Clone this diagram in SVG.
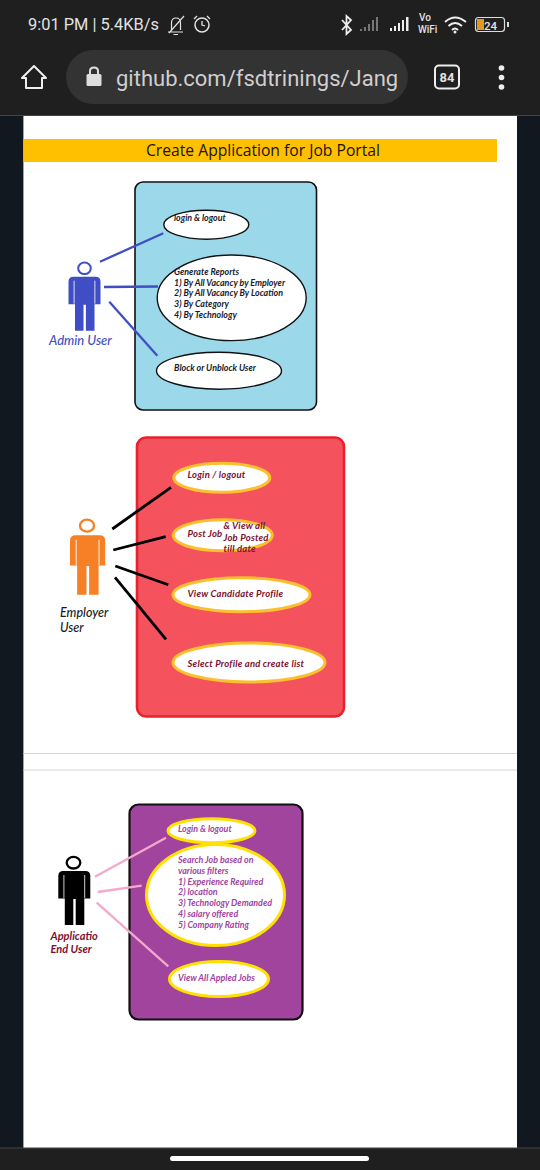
<svg xmlns="http://www.w3.org/2000/svg" width="540" height="1170" viewBox="0 0 540 1170">
<style>
.ui{font-family:Roboto,"Liberation Sans",sans-serif;fill:#e2e2e2}
.t{font-family:Lato,"Open Sans",sans-serif;font-style:italic;font-weight:700;font-size:8.9px}
.k{fill:#1a1a2a}.r{fill:#7c1030;font-size:9.500px;letter-spacing:.2px}.p{fill:#a0449e}
.a{stroke-linecap:butt;fill:none}
.arm{stroke:#fff;stroke-width:.8;fill:none}
</style>
<defs>
<path id="body" d="M5,0H27Q32,0 32,5V27.500H26V54H17.400V28H15V54H6.500V27.500H0V5Q0,0 5,0Z"/>
<g id="armlines"><path class="arm" d="M5.600,4V27M26.400,4V27"/></g>
</defs>

<rect width="540" height="1170" fill="#121820"/>
<rect width="540" height="116" fill="#1f1f1f"/>
<rect y="1148" width="540" height="22" fill="#1f1f1f"/>
<rect x="23.400" y="116" width="493.600" height="1032" fill="#fff"/>
<path d="M0,115.500H540M0,1148H540" stroke="#444" stroke-width="1"/>
<path d="M23.400,753.500H517M23.400,770H517" stroke="#d4d4d4" stroke-width="1"/>

<g id="statusbar">
<text class="ui" x="28" y="30" font-size="16.400">9:01 PM | 5.4KB/s</text>
<path d="M168,32H183M171.500,30V23Q171.500,18 176,18Q180.500,18 180.500,23V30M169,33L184,16M173.500,34.500H178" fill="none" stroke="#e2e2e2" stroke-width="1.200"/>
<circle cx="202" cy="25" r="7" fill="none" stroke="#e2e2e2" stroke-width="1.500"/>
<path d="M202,21V25L205,26M194,19L197,16M210,19L207,16" fill="none" stroke="#e2e2e2" stroke-width="1.300"/>
<path d="M342,20L351,30L346.500,34V16L351,20L342,30" fill="none" stroke="#eee" stroke-width="1.800"/>
<path d="M360,31V29H362V31ZM364,31V27H366V31ZM368,31V24H370V31ZM372,31V20H374V31ZM376,31V17H378V31Z" fill="#777"/>
<path d="M390,31V28H392V31ZM394,31V26H396V31ZM398,31V23H400V31ZM402,31V20H404V31ZM406,31V17H408.500V31Z" fill="#eee"/>
<text class="ui" x="419" y="21" font-size="10" font-weight="500">Vo</text>
<text class="ui" x="418" y="33" font-size="10" font-weight="500">WiFi</text>
<path d="M445,22Q455,13 466,22M448.500,26Q455,20 462,26M452,30Q455,27 458,30" fill="none" stroke="#eee" stroke-width="2"/>
<circle cx="455" cy="32" r="1.500" fill="#eee"/>
<rect x="475.500" y="17.500" width="29" height="14" rx="3" fill="none" stroke="#ddd" stroke-width="1.200"/>
<rect x="477" y="19" width="7" height="11" fill="#e09a22"/>
<text class="ui" x="484" y="30" font-size="11.500" font-weight="500">24</text>
<rect x="507" y="22" width="2" height="5" fill="#ddd"/>
</g>

<g id="browserbar">
<path d="M34,66L22,78H26V88H42V78H46Z" fill="none" stroke="#eee" stroke-width="2" stroke-linejoin="round"/>
<rect x="66" y="50" width="342" height="54" rx="27" fill="#333"/>
<rect x="86.500" y="74" width="15" height="12" rx="1.500" fill="#dedede"/>
<path d="M90,74V71Q90,67.500 94,67.500Q98,67.500 98,71V74" fill="none" stroke="#dedede" stroke-width="2"/>
<text class="ui" x="116" y="86" font-size="22" style="fill:#cfcfcf">github.com/fsdtrinings/Jang</text>
<rect x="435" y="65.500" width="24" height="23" rx="4" fill="none" stroke="#eee" stroke-width="2"/>
<text class="ui" x="447" y="82" font-size="13" font-weight="700" text-anchor="middle">84</text>
<circle cx="501.500" cy="68" r="2.800" fill="#eee"/><circle cx="501.500" cy="77.500" r="2.800" fill="#eee"/><circle cx="501.500" cy="87" r="2.800" fill="#eee"/>
</g>

<g id="title">
<rect x="23.400" y="139" width="473.600" height="23" fill="#ffc000"/>
<text x="263" y="156" font-family="'Open Sans',sans-serif" font-size="15.500" fill="#1a1405" text-anchor="middle" textLength="234" lengthAdjust="spacingAndGlyphs">Create Application for Job Portal</text>
</g>

<g id="admin-system"><rect x="135" y="182" width="181.500" height="228" rx="8" fill="#9bd8ea" stroke="#111" stroke-width="1.600"/></g>
<g id="employer-system"><rect x="137" y="437.500" width="207" height="279" rx="9" fill="#f4525c" stroke="#e7222e" stroke-width="2.600"/></g>
<g id="enduser-system"><rect x="129.500" y="804.500" width="173" height="215" rx="9" fill="#a0449e" stroke="#111" stroke-width="2.200"/></g>

<g id="connectors" class="a">
<g stroke="#3f4ec4" stroke-width="2.300">
<path d="M100,261.700L163.300,233.300"/><path d="M104,287L158,286.500"/><path d="M109.300,301.700L157.300,355.700"/>
</g>
<g stroke="#000" stroke-width="2.800">
<path d="M112.300,529L171,487.300"/><path d="M113.300,550L165.700,536.700"/><path d="M115.300,566L168.300,584.700"/><path d="M115,577.300L166,639.300"/>
</g>
<g stroke="#f4a8cc" stroke-width="2.300">
<path d="M95,876.700L166,837.700"/><path d="M97.700,892L141.700,885.700"/><path d="M96.700,902.700L168.300,966.300"/>
</g>
</g>

<g id="actor-admin">
<ellipse cx="84.500" cy="268.300" rx="6.300" ry="5.800" fill="#fff" stroke="#3f4ec4" stroke-width="2"/>
<use href="#body" transform="translate(68.500,276.700)" fill="#3f4ec4"/><use href="#armlines" transform="translate(68.500,276.700)"/>
<text x="49" y="345" font-family="Lato,sans-serif" font-style="italic" font-weight="500" font-size="13" fill="#3f4ec4">Admin User</text>
</g>
<g id="actor-employer">
<ellipse cx="87" cy="525.700" rx="7" ry="6" fill="#fff" stroke="#f58025" stroke-width="2.300"/>
<use href="#body" transform="translate(70,535.300) scale(1.100,1.100)" fill="#f58025"/><use href="#armlines" transform="translate(70,535.300) scale(1.100,1.100)"/>
<text x="60" y="617" font-family="Lato,sans-serif" font-style="italic" font-weight="500" font-size="12.500" fill="#1a1a1a">Employer</text>
<text x="60" y="632" font-family="Lato,sans-serif" font-style="italic" font-weight="500" font-size="12.500" fill="#1a1a1a">User</text>
</g>
<g id="actor-enduser">
<ellipse cx="73.500" cy="862.700" rx="6.800" ry="5.800" fill="#fff" stroke="#000" stroke-width="2.300"/>
<use href="#body" transform="translate(58.300,871)" fill="#000"/><use href="#armlines" transform="translate(58.300,871)"/>
<text x="50.500" y="940" font-family="Lato,sans-serif" font-style="italic" font-weight="700" font-size="11" fill="#7c1030">Applicatio</text>
<text x="50.500" y="953" font-family="Lato,sans-serif" font-style="italic" font-weight="700" font-size="11" fill="#7c1030">End User</text>
</g>

<g id="uc-admin-login">
<ellipse cx="206.300" cy="224.700" rx="42.500" ry="14.500" fill="#fff" stroke="#111" stroke-width="1.400"/>
<text class="t k" x="174" y="221">login &amp; logout</text>
</g>
<g id="uc-admin-reports">
<ellipse cx="231.700" cy="297.800" rx="74.500" ry="42.800" fill="#fff" stroke="#111" stroke-width="1.400"/>
<text class="t k" x="174" y="275">Generate Reports</text>
<text class="t k" x="174" y="286">1) By All Vacancy by Employer</text>
<text class="t k" x="174" y="296">2) By All Vacancy By Location</text>
<text class="t k" x="174" y="307">3) By Category</text>
<text class="t k" x="174" y="317.500">4) By Technology</text>
</g>
<g id="uc-admin-block">
<ellipse cx="219" cy="370.700" rx="62.500" ry="18.500" fill="#fff" stroke="#111" stroke-width="1.400"/>
<text class="t k" x="174" y="370.500">Block or Unblock User</text>
</g>

<g id="uc-emp-login">
<ellipse cx="221.800" cy="477.800" rx="48" ry="14.500" fill="#fff" stroke="#fbc02d" stroke-width="3"/>
<text class="t r" x="187.500" y="478">Login / logout</text>
</g>
<g id="uc-emp-post">
<ellipse cx="222.800" cy="535.300" rx="49.500" ry="15.500" fill="#fff" stroke="#fbc02d" stroke-width="3"/>
<text class="t r" x="187.500" y="537">Post Job</text>
<text class="t r" x="223.500" y="529">&amp; View all</text>
<text class="t r" x="223.500" y="540.500">Job Posted</text>
<text class="t r" x="223.500" y="552">till date</text>
</g>
<g id="uc-emp-view">
<ellipse cx="241.500" cy="594.700" rx="68.500" ry="17" fill="#fff" stroke="#fbc02d" stroke-width="3"/>
<text class="t r" x="187.500" y="596.500">View Candidate Profile</text>
</g>
<g id="uc-emp-select">
<ellipse cx="249" cy="662.500" rx="76" ry="19.500" fill="#fff" stroke="#fbc02d" stroke-width="3"/>
<text class="t r" x="187.500" y="667">Select Profile and create list</text>
</g>

<g id="uc-end-login">
<ellipse cx="211.500" cy="830.700" rx="43.500" ry="12" fill="#fff" stroke="#ffe000" stroke-width="3"/>
<text class="t p" x="178" y="832">Login &amp; logout</text>
</g>
<g id="uc-end-search">
<ellipse cx="215.500" cy="895" rx="69" ry="50.500" fill="#fff" stroke="#ffe000" stroke-width="3"/>
<text class="t p" x="178" y="863">Search Job based on</text>
<text class="t p" x="178" y="874">various filters</text>
<text class="t p" x="178" y="885">1) Experience Required</text>
<text class="t p" x="178" y="895">2) location</text>
<text class="t p" x="178" y="906">3) Technology Demanded</text>
<text class="t p" x="178" y="917">4) salary offered</text>
<text class="t p" x="178" y="927.500">5) Company Rating</text>
</g>
<g id="uc-end-view">
<ellipse cx="219" cy="979" rx="49.500" ry="17.500" fill="#fff" stroke="#ffe000" stroke-width="3"/>
<text class="t p" x="178" y="981">View All Appled Jobs</text>
</g>

<rect id="home-indicator" x="170" y="1156" width="199" height="5" rx="2.500" fill="#fff"/>
</svg>
